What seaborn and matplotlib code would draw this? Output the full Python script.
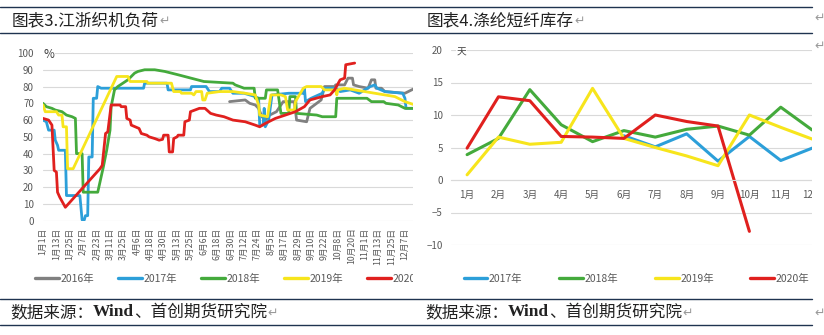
import numpy as np
import pandas as pd
import matplotlib
matplotlib.use('Agg')
import matplotlib.pyplot as plt
import seaborn as sns
from matplotlib.patches import Rectangle
from matplotlib.lines import Line2D

# ---------------- data: left chart (江浙织机负荷, %) ----------------
date_labels = ['1月1日', '1月13日', '1月25日', '2月7日', '2月23日', '3月11日', '3月25日',
               '4月6日', '4月18日', '4月30日', '5月13日', '5月25日', '6月6日', '6月18日',
               '6月30日', '7月12日', '7月24日', '8月5日', '8月17日', '8月29日', '9月10日',
               '9月22日', '10月8日', '10月20日', '11月1日', '11月13日', '11月25日', '12月7日']
label_step = 12

day_2016 = [167, 181, 185, 190, 193, 196, 199, 203, 209, 215, 225, 227, 236, 239, 243, 249,
            252, 261, 262, 270, 273, 277, 278, 283, 291, 294, 297, 298, 303, 306, 324, 330, 333]
load_2016 = [71, 72, 70, 69, 67, 62, 60, 63, 65, 71, 71, 60, 59, 67, 69, 72,
             80, 80, 81, 81, 85, 85, 81, 80, 79, 84, 84, 79, 79, 77, 76, 78, 79]

day_2017 = [0, 3, 5, 10, 11, 13, 14, 20, 21, 33, 35, 37, 38, 40, 41, 44, 45, 48, 49, 52,
            90, 91, 111, 112, 132, 133, 146, 149, 158, 160, 167, 170, 180, 190, 193, 194,
            197, 198, 199, 202, 205, 220, 233, 234, 235, 240, 250, 252, 262, 266, 275, 283,
            293, 297, 299, 306, 322, 324, 325, 333]
load_2017 = [60, 59, 54, 54, 48, 45, 42, 42, 15, 15, 0.5, 0.5, 3, 3, 38, 38, 73, 73, 80, 79,
             79, 82, 82, 78, 78, 80, 80, 77, 77, 79, 79, 76, 76, 74, 73, 57,
             57, 67, 56, 60, 75, 76, 76, 79, 71, 73, 76, 79, 79, 77, 78, 76,
             80, 81, 79, 77, 76, 73, 67, 67]

day_2018 = [0, 3, 8, 11, 17, 21, 26, 29, 30, 35, 36, 49, 54, 57, 60, 61, 64, 67, 76, 82,
            85, 91, 100, 109, 121, 144, 170, 172, 180, 189, 190, 199, 200, 210, 213, 220,
            221, 226, 227, 245, 250, 262, 263, 290, 294, 305, 307, 318, 324, 333]
load_2018 = [70, 68, 67, 66, 65, 63, 62, 61, 40, 40, 17, 17, 32, 42, 54, 68, 78, 80, 84, 88,
             89, 90, 90, 89, 87, 83, 82, 81, 79, 79, 73, 73, 78, 78, 64, 64,
             74, 74, 64, 63, 62, 62, 73, 73, 71, 71, 70, 69, 67, 67]

day_2019 = [0, 2, 12, 14, 17, 18, 21, 22, 27, 66, 76, 78, 93, 94, 115, 117, 123, 124, 133,
            135, 137, 142, 143, 145, 147, 158, 170, 181, 190, 193, 194, 201, 204, 213, 217,
            219, 225, 226, 233, 236, 249, 252, 262, 263, 264, 270, 279, 297, 315, 324, 333]
load_2019 = [69, 65, 65, 63, 63, 56, 56, 31, 31, 86, 86, 83, 83, 82, 82, 77, 77, 76, 76,
             75, 77, 77, 72, 72, 76, 77, 77, 76, 75, 69, 63, 62, 75, 75, 74,
             66, 66, 71, 79, 80, 80, 78, 78, 75, 78, 79, 78, 76, 74, 71, 69]

day_2020 = [0, 5, 8, 10, 12, 13, 15, 20, 51, 53, 56, 58, 61, 69, 70, 74, 75, 78, 79, 86,
            88, 93, 95, 100, 104, 107, 108, 112, 113, 116, 117, 120, 121, 126, 127, 131,
            132, 140, 145, 150, 155, 162, 170, 181, 190, 194, 199, 208, 217, 226, 234,
            239, 250, 257, 261, 266, 270, 271, 279]
load_2020 = [61, 60, 57, 30, 29, 17, 14, 8, 31, 33, 52, 53, 69, 69, 68, 68, 61, 60, 57, 55,
             52, 51, 50, 49, 48, 48.5, 51, 51, 41, 41, 49, 50, 51, 51, 59, 60,
             65, 67, 67, 64, 63, 62, 60, 59, 57, 56, 58, 61, 63, 65, 68,
             72, 74, 75, 78, 84, 85, 93, 94]

years_L = ['2016年', '2017年', '2018年', '2019年', '2020年']
days_L = [day_2016, day_2017, day_2018, day_2019, day_2020]
loads_L = [load_2016, load_2017, load_2018, load_2019, load_2020]

# ---------------- data: right chart (涤纶短纤库存, 天) ----------------
months = ['1月', '2月', '3月', '4月', '5月', '6月', '7月', '8月', '9月', '10月', '11月', '12月']
inv_2017 = [None, None, None, None, None, 6.8, 5.1, 7.1, 2.9, 6.7, 3.0, 4.9]
inv_2018 = [3.9, 6.4, 13.9, 8.5, 5.9, 7.6, 6.6, 7.8, 8.3, 6.9, 11.2, 7.7]
inv_2019 = [0.8, 6.6, 5.5, 5.8, 14.1, 6.4, 5.0, 3.7, 2.2, 10.0, 8.1, 6.3]
inv_2020 = [4.9, 12.8, 12.2, 6.7, 6.6, 6.4, 10.0, 9.0, 8.3, -7.9, None, None]
years_R = ['2017年', '2018年', '2019年', '2020年']
invs_R = [inv_2017, inv_2018, inv_2019, inv_2020]

# ---------------- style ----------------
colors = {'2016年': '#808080', '2017年': '#2C9FD9', '2018年': '#44AA3C',
          '2019年': '#F7E51C', '2020年': '#E0201E'}
sns.set_style('white')
plt.rcParams['font.family'] = ['Noto Sans CJK SC', 'DejaVu Sans']

W, H = 824, 335
fig = plt.figure(figsize=(W / 100, H / 100), dpi=100)


def fx(p):
    return p / W


def fy(p):
    return 1 - p / H


TICK_C = '#595959'
GRID_C = '#D9D9D9'
LINE_C = '#1F3350'

# ---------------- left chart ----------------
dfL = pd.concat([pd.DataFrame({'day': d, 'load': v, 'year': y})
                 for d, v, y in zip(days_L, loads_L, years_L)], ignore_index=True)
axL = fig.add_axes([fx(43), fy(220.7), (415 - 43) / W, (220.7 - 53) / H])
axL.set_zorder(0)
sns.lineplot(data=dfL, x='day', y='load', hue='year', hue_order=years_L, palette=colors,
             estimator=None, sort=False, lw=2.0, ax=axL, legend=False)
for s in axL.spines.values():
    s.set_visible(False)
axL.set_xlim(0, 333)
axL.set_ylim(0, 100)
axL.set_yticks(range(0, 101, 10))
axL.set_xticks([i * label_step for i in range(len(date_labels))])
axL.set_xticklabels(date_labels, rotation=90)
axL.tick_params(axis='y', labelsize=7, labelcolor=TICK_C, length=0, pad=6.5)
axL.tick_params(axis='x', labelsize=6.3, labelcolor=TICK_C, length=0, pad=5)
axL.grid(axis='y', color=GRID_C, lw=0.8)
axL.set_axisbelow(True)
axL.set_xlabel('')
axL.set_ylabel('')
fig.text(fx(43), fy(54), '%', fontsize=8.5, color='#404040', va='center', ha='left',
         bbox=dict(facecolor='white', edgecolor='none', pad=0.5))

handlesL = [Line2D([], [], color=colors[y], lw=2.4) for y in years_L]
axL.legend(handlesL, years_L, ncol=5, loc='center left', bbox_to_anchor=(fx(35), fy(279)),
           bbox_transform=fig.transFigure, frameon=False, fontsize=7.5, labelcolor=TICK_C,
           handlelength=2.3, handletextpad=0.15, columnspacing=2.3, borderpad=0,
           borderaxespad=0)

# white cover: the left chart is cropped at the column edge
fig.add_artist(Rectangle((fx(413), 0), 1 - fx(413), 1, transform=fig.transFigure,
                         facecolor='white', edgecolor='none', zorder=0.5))

# ---------------- right chart ----------------
rows = []
for y, vals in zip(years_R, invs_R):
    for i, v in enumerate(vals):
        if v is not None:
            rows.append({'month': i, 'inv': v, 'year': y})
dfR = pd.DataFrame(rows)
axR = fig.add_axes([fx(451.4), fy(245), 376.4 / W, 195 / H])
axR.set_zorder(1)
sns.lineplot(data=dfR, x='month', y='inv', hue='year', hue_order=years_R, palette=colors,
             estimator=None, sort=False, lw=2.2, ax=axR, legend=False)
for k in ['left', 'right', 'top']:
    axR.spines[k].set_visible(False)
axR.spines['bottom'].set_position(('data', 0))
axR.spines['bottom'].set_color(GRID_C)
axR.spines['bottom'].set_linewidth(0.8)
axR.set_xlim(-0.5, 11.5)
axR.set_ylim(-10, 20)
axR.set_yticks(range(-10, 21, 5))
axR.set_xticks(range(12))
axR.set_xticklabels(months)
axR.tick_params(axis='y', labelsize=7, labelcolor=TICK_C, length=0, pad=6.3)
axR.tick_params(axis='x', labelsize=7, labelcolor=TICK_C, length=0, pad=7)
axR.grid(axis='y', color=GRID_C, lw=0.8)
axR.set_axisbelow(True)
axR.set_xlabel('')
axR.set_ylabel('')
fig.text(fx(457), fy(52.5), '天', fontsize=7, color='#404040', va='center', ha='left',
         zorder=5, bbox=dict(facecolor='white', edgecolor='none', pad=0.5))

handlesR = [Line2D([], [], color=colors[y], lw=2.4) for y in years_R]
axR.legend(handlesR, years_R, ncol=4, loc='center left', bbox_to_anchor=(fx(463.5), fy(279)),
           bbox_transform=fig.transFigure, frameon=False, fontsize=7.5, labelcolor=TICK_C,
           handlelength=2.3, handletextpad=0.15, columnspacing=3.5, borderpad=0,
           borderaxespad=0)

fig.add_artist(Rectangle((fx(811.5), 0), 1 - fx(811.5), 1, transform=fig.transFigure,
                         facecolor='white', edgecolor='none', zorder=2))

# ---------------- frame lines & captions ----------------
for yy in [7.3, 33.3, 299.3, 325]:
    fig.add_artist(Line2D([0, fx(812)], [fy(yy), fy(yy)], color=LINE_C, lw=1.0, zorder=3))

TXT_C = '#222222'
RET_C = '#9A9A9A'
fig.canvas.draw()
renderer = fig.canvas.get_renderer()


def chain(x_px, y_px, parts):
    """Draw text pieces one after another; return right edge in pixels."""
    x = x_px
    for s, kw in parts:
        params = dict(va='center', ha='left', zorder=4, color=TXT_C)
        params.update(kw)
        t = fig.text(fx(x), fy(y_px), s, **params)
        bb = t.get_window_extent(renderer)
        x = bb.x1
    return x


cjk = dict(fontsize=12)
wind = dict(fontsize=12.5, family=['Liberation Serif'], weight='bold')
ret = dict(fontsize=9, family=['DejaVu Sans'], color=RET_C)

for x0, title in [(11.5, '图表3.江浙织机负荷'), (427, '图表4.涤纶短纤库存')]:
    e = chain(x0, 20.8, [(title, cjk)])
    chain(e + 0.5, 21.5, [('↵', ret)])

for x0 in [10, 425]:
    e = chain(x0, 312.5, [('数据来源：', cjk), ('Wind', wind), ('、首创期货研究院', cjk)])
    chain(e + 0.5, 313, [('↵', ret)])

for yy in [18, 46, 313]:
    fig.text(fx(814), fy(yy), '↵', fontsize=9, color=RET_C, va='center', ha='left',
             zorder=4, family=['DejaVu Sans'])

fig.savefig('out.png', dpi=100)
